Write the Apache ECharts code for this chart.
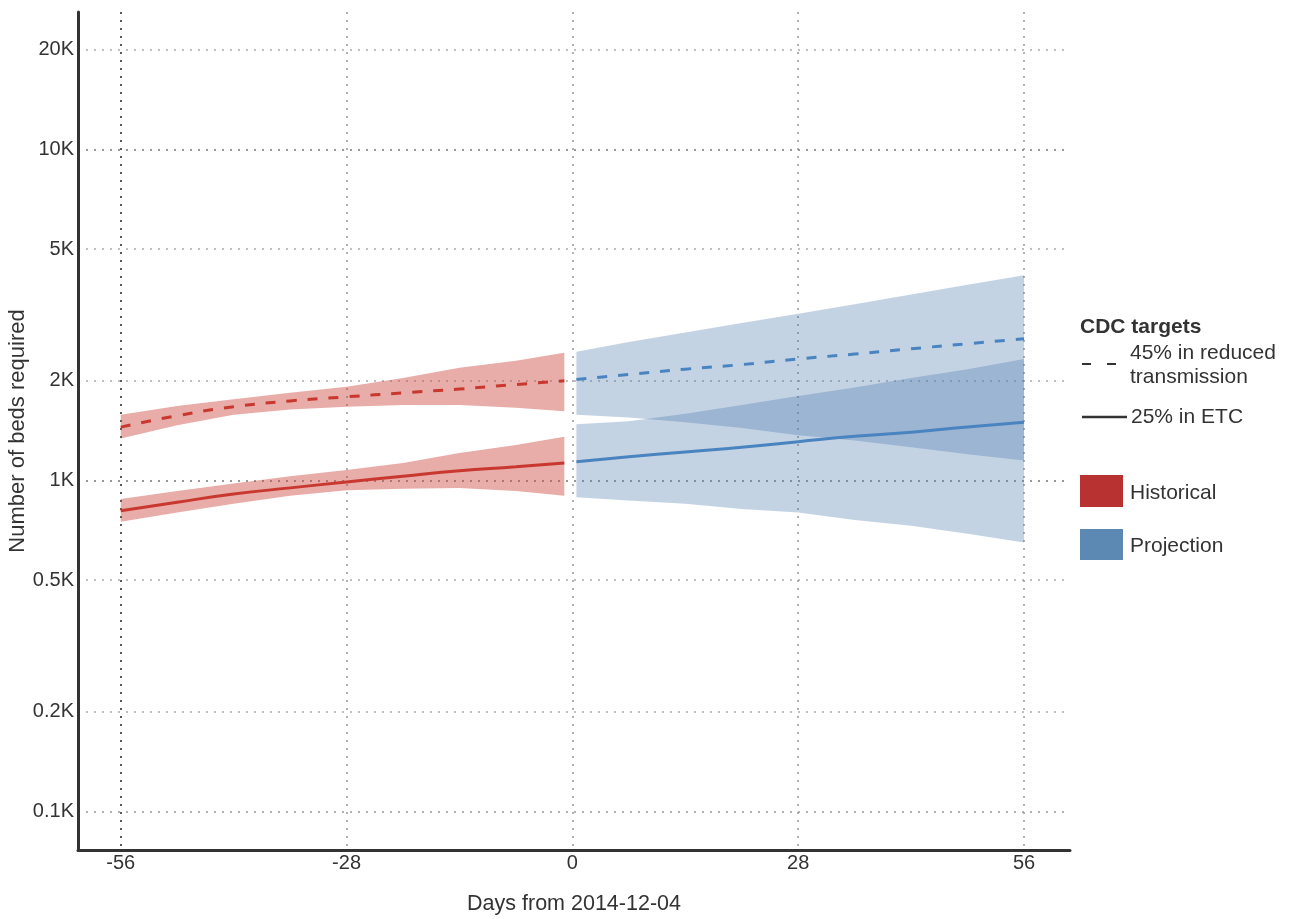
<!DOCTYPE html>
<html>
<head>
<meta charset="utf-8">
<script src="https://cdn.jsdelivr.net/npm/echarts@6/dist/echarts.min.js"></script>
<style>
html,body{margin:0;padding:0;background:#fff;}
#chart{width:1297px;height:919px;}
</style>
</head>
<body>
<div id="chart"></div>
<script>
// ---- data (values in thousands of beds) ----
const xTickValues = [-56, -28, 0, 28, 56];
const yTickValues = [0.1, 0.2, 0.5, 1, 2, 5, 10, 20];
const yTickLabels = ['0.1K', '0.2K', '0.5K', '1K', '2K', '5K', '10K', '20K'];

const redDays        = [-56, -49, -42, -35, -28, -21, -14, -7, -1];
const redDashed      = [1.45, 1.57, 1.67, 1.74, 1.79, 1.84, 1.89, 1.95, 2.00];
const redDashedLow   = [1.34, 1.47, 1.58, 1.64, 1.67, 1.69, 1.69, 1.66, 1.62];
const redDashedHigh  = [1.58, 1.68, 1.76, 1.84, 1.92, 2.04, 2.19, 2.30, 2.43];
const redSolid       = [0.81, 0.86, 0.91, 0.95, 0.99, 1.03, 1.07, 1.10, 1.13];
const redSolidLow    = [0.75, 0.80, 0.85, 0.90, 0.935, 0.945, 0.95, 0.93, 0.90];
const redSolidHigh   = [0.88, 0.93, 0.98, 1.03, 1.075, 1.13, 1.21, 1.28, 1.356];

const blueDays       = [0.5, 7, 14, 21, 28, 35, 42, 49, 56];
const blueDashed     = [2.02, 2.09, 2.17, 2.24, 2.33, 2.41, 2.50, 2.59, 2.68];
const blueDashedLow  = [1.58, 1.55, 1.50, 1.44, 1.37, 1.32, 1.26, 1.20, 1.15];
const blueDashedHigh = [2.45, 2.62, 2.80, 2.99, 3.19, 3.41, 3.65, 3.90, 4.17];
const blueSolid      = [1.14, 1.18, 1.22, 1.26, 1.31, 1.36, 1.40, 1.45, 1.50];
const blueSolidLow   = [0.89, 0.87, 0.85, 0.82, 0.80, 0.76, 0.73, 0.69, 0.65];
const blueSolidHigh  = [1.48, 1.51, 1.59, 1.69, 1.80, 1.91, 2.04, 2.17, 2.33];

// ---- helpers ----
const L = v => Math.log10(v);
const pts = (xs, ys) => xs.map((x, i) => [x, L(ys[i])]);

const RED_LINE = '#c8382f';
const BLUE_LINE = '#4a84c0';
const RED_BAND = 'rgba(205,70,65,0.45)';
const BLUE_BAND = 'rgba(75,122,172,0.33)';

// band drawn as one polygon through the chart's own coordinate system
function band(name, xs, lo, hi, color) {
  return {
    type: 'custom', name: name, silent: true, z: 1, clip: true,
    data: xs.map((x, i) => [x, L(lo[i]), L(hi[i])]),
    encode: { x: 0, y: [1, 2] },
    renderItem: function (params, api) {
      if (params.dataIndexInside !== 0) return null;
      const n = params.dataInsideLength;
      const top = [], bot = [];
      for (let i = 0; i < n; i++) {
        const x = api.value(0, i);
        top.push(api.coord([x, api.value(2, i)]));
        bot.push(api.coord([x, api.value(1, i)]));
      }
      return { type: 'polygon', shape: { points: top.concat(bot.reverse()) }, style: { fill: color } };
    }
  };
}
function line(name, xs, ys, color, dashed) {
  return { type: 'line', name: name, data: pts(xs, ys), symbol: 'none', smooth: true, z: 5,
    lineStyle: { color: color, width: 3, type: dashed ? [10, 11] : 'solid' } };
}

const series = [
  band('rdb', redDays, redDashedLow, redDashedHigh, RED_BAND),
  band('rsb', redDays, redSolidLow, redSolidHigh, RED_BAND),
  band('bdb', blueDays, blueDashedLow, blueDashedHigh, BLUE_BAND),
  band('bsb', blueDays, blueSolidLow, blueSolidHigh, BLUE_BAND),
  line('rd', redDays, redDashed, RED_LINE, true),
  line('rs', redDays, redSolid, RED_LINE, false),
  line('bd', blueDays, blueDashed, BLUE_LINE, true),
  line('bs', blueDays, blueSolid, BLUE_LINE, false)
];

const textColor = '#333';
const fontFam = '"Liberation Sans", Arial, sans-serif';
const legendFont = '21px ' + fontFam;

const chart = echarts.init(document.getElementById('chart'), null, { renderer: 'canvas' });
chart.setOption({
  animation: false,
  backgroundColor: '#fff',
  grid: { left: 78, right: 227, top: 12, bottom: 69, containLabel: false, outerBoundsMode: 'none' },
  xAxis: {
    type: 'value', min: -61.3, max: 61.7,
    name: 'Days from 2014-12-04', nameLocation: 'middle', nameGap: 43,
    nameTextStyle: { fontSize: 21.5, color: textColor, fontFamily: fontFam },
    axisLine: { show: true, onZero: false, lineStyle: { color: '#333', width: 3 } },
    axisTick: { show: false, customValues: xTickValues },
    axisLabel: { customValues: xTickValues, fontSize: 20, color: textColor, fontFamily: fontFam, margin: 3,
      formatter: v => String(Math.round(v)) },
    splitLine: { show: true, lineStyle: { type: [2, 6], width: 1.5,
      color: ['#222', '#999', '#999', '#999', '#999'] } }
  },
  yAxis: {
    type: 'value', min: L(0.0765), max: L(26.03),
    name: 'Number of beds required', nameLocation: 'middle', nameGap: 49, nameMoveOverlap: false,
    nameTextStyle: { fontSize: 22, color: textColor, fontFamily: fontFam },
    axisLine: { show: true, onZero: false, lineStyle: { color: '#333', width: 3 } },
    axisTick: { show: false, customValues: yTickValues.map(L) },
    axisLabel: { customValues: yTickValues.map(L), fontSize: 20, color: textColor, fontFamily: fontFam, margin: 4,
      formatter: v => {
        let best = 0;
        yTickValues.forEach((t, i) => { if (Math.abs(L(t) - v) < Math.abs(L(yTickValues[best]) - v)) best = i; });
        return yTickLabels[best];
      } },
    splitLine: { show: true, lineStyle: { type: [2, 6], width: 1.5,
      color: ['#999', '#aaa', '#aaa', '#777', '#aaa', '#aaa', '#777', '#aaa'] } }
  },
  series: series,
  graphic: [
    { type: 'text', x: 1080, y: 327, style: { text: 'CDC targets', font: 'bold ' + legendFont, fill: '#333', verticalAlign: 'middle' } },
    { type: 'line', shape: { x1: 1082, y1: 364, x2: 1116, y2: 364 }, style: { stroke: '#333', lineWidth: 2, lineDash: [9, 16] } },
    { type: 'text', x: 1130, y: 353, style: { text: '45% in reduced', font: legendFont, fill: '#333', verticalAlign: 'middle' } },
    { type: 'text', x: 1130, y: 377, style: { text: 'transmission', font: legendFont, fill: '#333', verticalAlign: 'middle' } },
    { type: 'line', shape: { x1: 1082, y1: 417, x2: 1127, y2: 417 }, style: { stroke: '#333', lineWidth: 2.5 } },
    { type: 'text', x: 1131, y: 417, style: { text: '25% in ETC', font: legendFont, fill: '#333', verticalAlign: 'middle' } },
    { type: 'rect', shape: { x: 1080, y: 475, width: 43, height: 32 }, style: { fill: '#b83232' } },
    { type: 'text', x: 1130, y: 493, style: { text: 'Historical', font: legendFont, fill: '#333', verticalAlign: 'middle' } },
    { type: 'rect', shape: { x: 1080, y: 529, width: 43, height: 31 }, style: { fill: '#5b89b3' } },
    { type: 'text', x: 1130, y: 546, style: { text: 'Projection', font: legendFont, fill: '#333', verticalAlign: 'middle' } }
  ]
});
</script>
</body>
</html>
